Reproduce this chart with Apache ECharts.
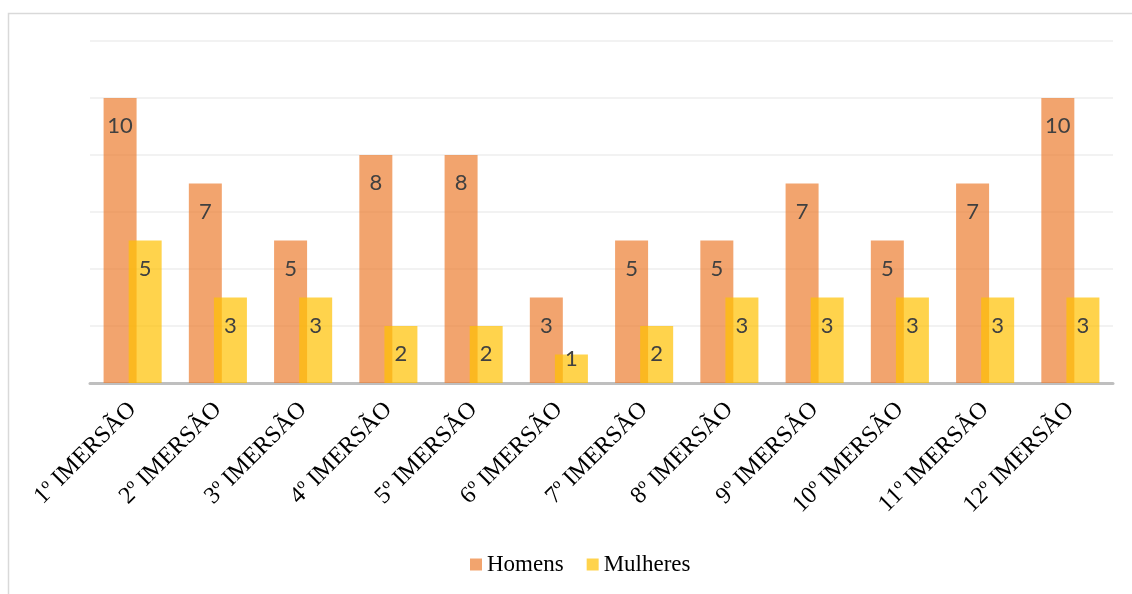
<!DOCTYPE html>
<html>
<head>
<meta charset="utf-8">
<script src="https://cdn.jsdelivr.net/npm/echarts@6/dist/echarts.min.js"></script>
<style>
    html, body { margin: 0; padding: 0; background: #fff; }
    #chart { width: 1132px; height: 594px; }
</style>
</head>
<body>
<div id="chart"></div>
<script>
var categories = ['1º IMERSÃO', '2º IMERSÃO', '3º IMERSÃO', '4º IMERSÃO', '5º IMERSÃO', '6º IMERSÃO',
    '7º IMERSÃO', '8º IMERSÃO', '9º IMERSÃO', '10º IMERSÃO', '11º IMERSÃO', '12º IMERSÃO'];
var homens = [10, 7, 5, 8, 8, 3, 5, 5, 7, 5, 7, 10];
var mulheres = [5, 3, 3, 2, 2, 1, 2, 3, 3, 3, 3, 3];

var appChart = {
    chart: null,
    init: function init() {
        this.chart = echarts.init(document.getElementById('chart'));
        this.chart.setOption(this.getOption());
    },
    //数据标签，太矮的柱子往上移
    toData: function toData(values) {
        return values.map(function (v) {
            if (v < 2) {
                return { value: v, label: { distance: -7 } };
            }
            return v;
        });
    },
    getOption: function getOption() {
        var label = {
            show: true,
            position: 'insideTop',
            distance: 17,
            color: '#404040',
            fontFamily: 'Lato',
            fontSize: 22
        };
        return {
            animation: false,
            backgroundColor: '#fff',
            graphic: [{
                type: 'rect',
                shape: { x: 8.5, y: 13.5, width: 1140, height: 600 },
                style: { fill: 'none', stroke: '#D9D9D9', lineWidth: 1.5 },
                silent: true
            }],
            grid: {
                left: 90,
                right: 19,
                top: 41,
                bottom: 211
            },
            legend: {
                bottom: 13,
                left: 465,
                itemWidth: 12,
                itemHeight: 12,
                itemGap: 23,
                icon: 'rect',
                textStyle: {
                    fontFamily: 'Liberation Serif',
                    fontSize: 23,
                    color: '#000'
                },
                data: ['Homens', 'Mulheres']
            },
            xAxis: {
                type: 'category',
                data: categories,
                axisLine: { lineStyle: { color: '#BFBFBF', width: 3 } },
                axisTick: { show: false },
                axisLabel: {
                    rotate: 45,
                    interval: 0,
                    margin: 23,
                    color: '#000',
                    fontFamily: 'Liberation Serif',
                    fontSize: 24
                }
            },
            yAxis: {
                type: 'value',
                min: 0,
                max: 12,
                interval: 2,
                axisLabel: { show: false },
                axisLine: { show: false },
                axisTick: { show: false },
                splitLine: { lineStyle: { color: '#EEEEEE', width: 1.5 } }
            },
            series: [{
                name: 'Homens',
                type: 'bar',
                barWidth: 33,
                barGap: '-24%',
                itemStyle: { color: 'rgba(237,125,49,0.7)' },
                label: label,
                data: this.toData(homens)
            }, {
                name: 'Mulheres',
                type: 'bar',
                barWidth: 33,
                itemStyle: { color: 'rgba(255,192,0,0.7)' },
                label: label,
                data: this.toData(mulheres)
            }]
        };
    }
};
window.onload = function () {
    appChart.init();
};
</script>
</body>
</html>
